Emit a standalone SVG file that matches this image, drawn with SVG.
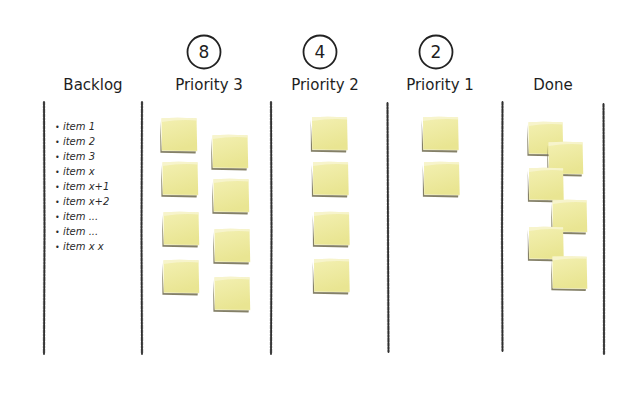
<svg xmlns="http://www.w3.org/2000/svg" xmlns:xlink="http://www.w3.org/1999/xlink" width="642" height="400" viewBox="0 0 642 400">
  <defs>
    <linearGradient id="noteFill" x1="0" y1="0" x2="0.3" y2="1">
      <stop offset="0" stop-color="#f3f0b2"/>
      <stop offset="1" stop-color="#e9e592"/>
    </linearGradient>
    <symbol id="note" viewBox="0 0 40 38" overflow="visible">
      <path d="M0.2,4 L0.4,36.6 L36.5,37.4 L36.8,35 L1.8,34.6 Z" fill="#6e6a4c" opacity="0.85"/>
      <path d="M1.5,1.2 Q19,0.2 37.5,1.4 L38.2,35.2 L1.8,34.6 Z" fill="url(#noteFill)"/>
      <path d="M1.5,1.2 Q19,0.2 37.5,1.4 L37.5,3.6 Q20,2.2 1.6,5.2 Z" fill="#f8f6d6" opacity="0.75"/>
      <path d="M38.2,35.2 L1.8,34.6" stroke="#ffffff" stroke-width="0.6" opacity="0.6" fill="none"/>
    </symbol>
  </defs>
  <style>
    .lane { stroke: #2e2e2e; stroke-width: 1.8; fill: none; stroke-linecap: round; }
    .laneGrain { stroke: #777; stroke-width: 3; fill: none; opacity: 0.35; stroke-dasharray: 3 1 2 1 4 1; }
    .head { font-family: "DejaVu Sans", "Liberation Sans", sans-serif; font-size: 15px; fill: #1e1e1e; text-anchor: middle; }
    .num { font-family: "DejaVu Sans", "Liberation Sans", sans-serif; font-size: 17px; fill: #1e1e1e; text-anchor: middle; }
    .ring { fill: none; stroke: #222; stroke-width: 1.8; }
    .item { font-family: "DejaVu Sans", "Liberation Sans", sans-serif; font-size: 10px; font-style: italic; fill: #2a2a2a; }
    .bullet { font-style: normal; font-size: 8px; }
  </style>
  <rect width="642" height="400" fill="#ffffff"/>

  <g id="connectors">
    <path class="laneGrain" d="M44,102 L44.5,230 L44,354"/>
    <path class="lane" d="M44,102 L44.5,230 L44,354"/>
    <path class="laneGrain" d="M142,102 L141.5,230 L142,354"/>
    <path class="lane" d="M142,102 L141.5,230 L142,354"/>
    <path class="laneGrain" d="M271,102 L271.5,230 L271,354"/>
    <path class="lane" d="M271,102 L271.5,230 L271,354"/>
    <path class="laneGrain" d="M387.5,103 L388,230 L388.5,352"/>
    <path class="lane" d="M387.5,103 L388,230 L388.5,352"/>
    <path class="laneGrain" d="M502.5,102 L502,230 L502.5,351"/>
    <path class="lane" d="M502.5,102 L502,230 L502.5,351"/>
    <path class="laneGrain" d="M603.5,104 L604,230 L604,354"/>
    <path class="lane" d="M603.5,104 L604,230 L604,354"/>
  </g>

  <g id="counter-p3">
    <circle class="ring" cx="204" cy="52" r="16.5"/>
    <text class="num" x="204" y="58">8</text>
  </g>
  <g id="counter-p2">
    <circle class="ring" cx="320" cy="52" r="16.5"/>
    <text class="num" x="320" y="58">4</text>
  </g>
  <g id="counter-p1">
    <circle class="ring" cx="436" cy="52" r="16.5"/>
    <text class="num" x="436" y="58">2</text>
  </g>

  <g id="header-backlog"><text class="head" x="93" y="90">Backlog</text></g>
  <g id="header-p3"><text class="head" x="209" y="90">Priority 3</text></g>
  <g id="header-p2"><text class="head" x="325" y="90">Priority 2</text></g>
  <g id="header-p1"><text class="head" x="440" y="90">Priority 1</text></g>
  <g id="header-done"><text class="head" x="553" y="90">Done</text></g>

  <g id="backlog-list">
    <text class="item" x="55" y="130"><tspan class="bullet">•</tspan> item 1</text>
    <text class="item" x="55" y="145"><tspan class="bullet">•</tspan> item 2</text>
    <text class="item" x="55" y="160"><tspan class="bullet">•</tspan> item 3</text>
    <text class="item" x="55" y="175"><tspan class="bullet">•</tspan> item x</text>
    <text class="item" x="55" y="190"><tspan class="bullet">•</tspan> item x+1</text>
    <text class="item" x="55" y="205"><tspan class="bullet">•</tspan> item x+2</text>
    <text class="item" x="55" y="220"><tspan class="bullet">•</tspan> item ...</text>
    <text class="item" x="55" y="235"><tspan class="bullet">•</tspan> item ...</text>
    <text class="item" x="55" y="250"><tspan class="bullet">•</tspan> item x x</text>
  </g>

  <g id="p3-note-1"><use xlink:href="#note" href="#note" x="160" y="117" width="39" height="37"/></g>
  <g id="p3-note-2"><use xlink:href="#note" href="#note" x="211" y="134" width="39" height="37"/></g>
  <g id="p3-note-3"><use xlink:href="#note" href="#note" x="161" y="161" width="39" height="37"/></g>
  <g id="p3-note-4"><use xlink:href="#note" href="#note" x="212" y="178" width="39" height="37"/></g>
  <g id="p3-note-5"><use xlink:href="#note" href="#note" x="162" y="211" width="39" height="37"/></g>
  <g id="p3-note-6"><use xlink:href="#note" href="#note" x="213" y="228" width="39" height="37"/></g>
  <g id="p3-note-7"><use xlink:href="#note" href="#note" x="162" y="259" width="39" height="37"/></g>
  <g id="p3-note-8"><use xlink:href="#note" href="#note" x="213" y="276" width="39" height="37"/></g>

  <g id="p2-note-1"><use xlink:href="#note" href="#note" x="310" y="116" width="40" height="37"/></g>
  <g id="p2-note-2"><use xlink:href="#note" href="#note" x="311" y="161" width="40" height="37"/></g>
  <g id="p2-note-3"><use xlink:href="#note" href="#note" x="312" y="211" width="40" height="37"/></g>
  <g id="p2-note-4"><use xlink:href="#note" href="#note" x="312" y="258" width="40" height="37"/></g>

  <g id="p1-note-1"><use xlink:href="#note" href="#note" x="421" y="116" width="40" height="37"/></g>
  <g id="p1-note-2"><use xlink:href="#note" href="#note" x="422" y="161" width="40" height="37"/></g>

  <g id="done-note-1"><use xlink:href="#note" href="#note" x="527" y="121" width="38" height="36"/></g>
  <g id="done-note-2"><use xlink:href="#note" href="#note" x="547" y="141" width="38" height="36"/></g>
  <g id="done-note-3"><use xlink:href="#note" href="#note" x="527" y="167" width="39" height="36"/></g>
  <g id="done-note-4"><use xlink:href="#note" href="#note" x="551" y="199" width="38" height="36"/></g>
  <g id="done-note-5"><use xlink:href="#note" href="#note" x="527" y="226" width="39" height="36"/></g>
  <g id="done-note-6"><use xlink:href="#note" href="#note" x="551" y="255" width="38" height="37"/></g>
</svg>
